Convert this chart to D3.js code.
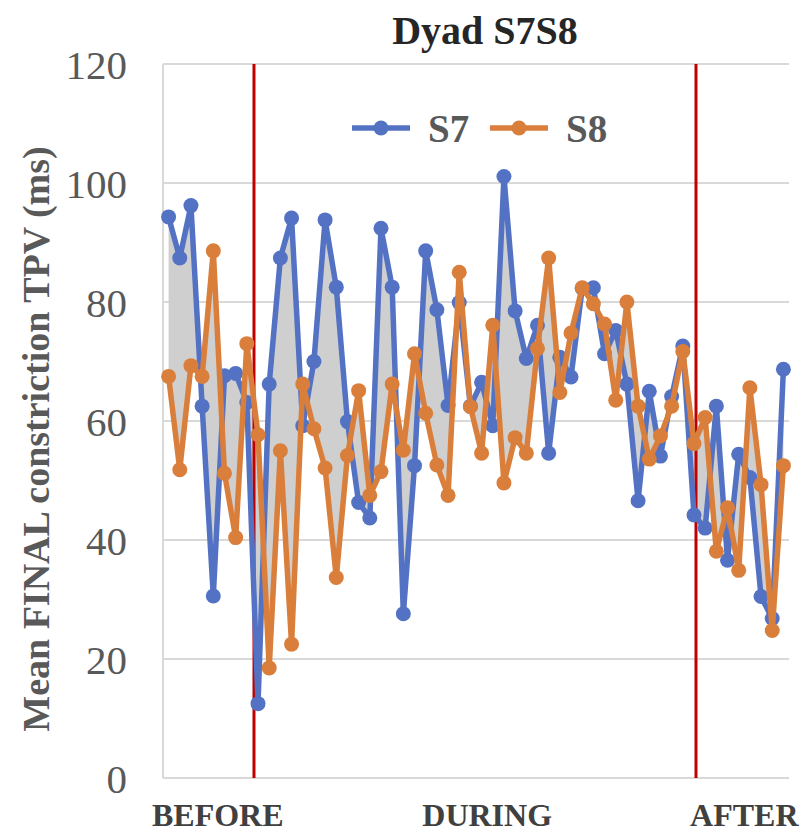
<!DOCTYPE html>
<html>
<head>
<meta charset="utf-8">
<script src="https://cdn.jsdelivr.net/npm/d3@7"></script>
<style>
  body { margin: 0; background: #fff; }
  text { font-family: "Liberation Serif", "Times New Roman", serif; }
</style>
</head>
<body>
<div id="chart"></div>
<script>
// S7 / S8 mean final constriction TPV (ms), one value per trial
const s7 = [94.3, 87.4, 96.2, 62.5, 30.6, 67.6, 68.0, 63.1, 12.5, 66.2,
            87.4, 94.1, 59.2, 70.0, 93.8, 82.5, 59.9, 46.3, 43.7, 92.4,
            82.5, 27.6, 52.5, 88.6, 78.7, 62.6, 79.9, 62.5, 66.5, 59.2,
            101.1, 78.5, 70.5, 76.1, 54.6, 70.7, 67.4, 82.3, 82.4, 71.3,
            75.2, 66.2, 46.6, 65.0, 54.1, 64.1, 72.6, 44.2, 42.0, 62.5,
            36.6, 54.4, 50.5, 30.5, 26.8, 68.7];
const s8 = [67.5, 51.8, 69.3, 67.5, 88.6, 51.2, 40.4, 73.0, 57.7, 18.5,
            55.0, 22.5, 66.2, 58.7, 52.1, 33.7, 54.2, 65.1, 47.5, 51.5,
            66.2, 55.1, 71.3, 61.3, 52.6, 47.5, 85.0, 62.4, 54.6, 76.1,
            49.6, 57.2, 54.6, 72.2, 87.4, 64.8, 74.8, 82.4, 79.7, 76.3,
            63.5, 80.0, 62.5, 53.6, 57.5, 62.5, 71.7, 56.2, 60.6, 38.1,
            45.4, 34.9, 65.6, 49.3, 24.8, 52.5];
const seriesNames = ['S7', 'S8'];
const yTicks = [0, 20, 40, 60, 80, 100, 120];
// phase boundaries and phase labels, in trial units
const phaseBreaks = [8.14, 47.68];
const phaseNames = ['BEFORE', 'DURING', 'AFTER'];
const phaseCenters = [4.9, 29, 52];

const width = 804, height = 834;
const margin = {top: 64, right: 15, bottom: 56, left: 163};
const colors = {S7: '#5472c4', S8: '#d97f3b'};

const svg = d3.select('#chart').append('svg')
    .attr('width', width)
    .attr('height', height);

const x = d3.scaleLinear()
    .domain([0, s7.length])
    .range([margin.left, width - margin.right]);

const y = d3.scaleLinear()
    .domain([0, 120])
    .range([height - margin.bottom, margin.top]);

// gridlines
svg.append('g')
  .selectAll('line')
  .data(yTicks)
  .join('line')
    .attr('x1', x(0)).attr('x2', x(s7.length))
    .attr('y1', d => y(d)).attr('y2', d => y(d))
    .attr('stroke', '#d9d9d9')
    .attr('stroke-width', 2);

// left axis line
svg.append('line')
    .attr('x1', x(0)).attr('x2', x(0))
    .attr('y1', y(120)).attr('y2', y(0))
    .attr('stroke', '#d9d9d9')
    .attr('stroke-width', 2);

// y tick labels
const yAxis = svg.append('g')
    .attr('transform', `translate(${x(0)},0)`)
    .call(d3.axisLeft(y).tickValues(yTicks).tickSize(0).tickPadding(36));
yAxis.select('.domain').remove();
yAxis.selectAll('text')
    .attr('fill', '#595959')
    .attr('dy', '0.36em')
    .style('font-size', '41px')
    .style('font-family', '"Liberation Serif", "Times New Roman", serif');

const cx = (d, i) => x(i + 0.5);

// shaded band between the two series
svg.append('path')
    .datum(s7.map((v, i) => [v, s8[i]]))
    .attr('fill', '#cfcfcf')
    .attr('d', d3.area()
        .x(cx)
        .y0(d => y(d[1]))
        .y1(d => y(d[0])));

// red phase boundaries
svg.append('g')
  .selectAll('line')
  .data(phaseBreaks)
  .join('line')
    .attr('x1', d => x(d)).attr('x2', d => x(d))
    .attr('y1', y(120)).attr('y2', y(0))
    .attr('stroke', '#c00000')
    .attr('stroke-width', 3);

const line = d3.line().x(cx).y(d => y(d));

[[s7, 'S7'], [s8, 'S8']].forEach(([vals, name]) => {
  const g = svg.append('g');
  g.append('path')
      .datum(vals)
      .attr('fill', 'none')
      .attr('stroke', colors[name])
      .attr('stroke-width', 5.5)
      .attr('stroke-linejoin', 'round')
      .attr('d', line);
  g.selectAll('circle')
    .data(vals)
    .join('circle')
      .attr('cx', cx)
      .attr('cy', d => y(d))
      .attr('r', 7.5)
      .attr('fill', colors[name]);
});

// phase labels
svg.append('g')
  .selectAll('text')
  .data(phaseNames)
  .join('text')
    .attr('x', (d, i) => x(phaseCenters[i]))
    .attr('y', 826)
    .attr('text-anchor', 'middle')
    .attr('fill', '#404040')
    .style('font-size', '32px')
    .style('font-weight', 'bold')
    .text(d => d);

// title
svg.append('text')
    .attr('x', 485)
    .attr('y', 44)
    .attr('text-anchor', 'middle')
    .attr('fill', '#262626')
    .style('font-size', '40px')
    .style('font-weight', 'bold')
    .text('Dyad S7S8');

// y axis title
svg.append('text')
    .attr('transform', 'translate(49,439) rotate(-90)')
    .attr('text-anchor', 'middle')
    .attr('fill', '#595959')
    .style('font-size', '38px')
    .style('font-weight', 'bold')
    .text('Mean FINAL constriction TPV (ms)');

// legend
const legend = svg.append('g')
  .selectAll('g')
  .data(seriesNames)
  .join('g')
    .attr('transform', (d, i) => `translate(${352 + i * 138},128)`);
legend.append('line')
    .attr('x1', 0).attr('x2', 58)
    .attr('stroke', d => colors[d])
    .attr('stroke-width', 5.5);
legend.append('circle')
    .attr('cx', 29)
    .attr('r', 7.5)
    .attr('fill', d => colors[d]);
legend.append('text')
    .attr('x', 76)
    .attr('y', 14)
    .attr('fill', '#595959')
    .style('font-size', '39px')
    .style('font-weight', 'bold')
    .text(d => d);
</script>
</body>
</html>
